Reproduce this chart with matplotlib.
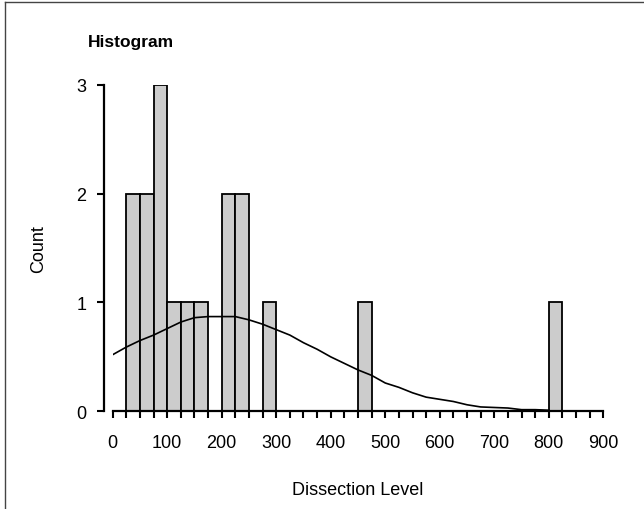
import matplotlib
matplotlib.use("Agg")
from matplotlib import pyplot as plt
from matplotlib.lines import Line2D
import numpy as np

plt.rcParams["font.family"] = ["Liberation Sans", "DejaVu Sans"]

# histogram bins (left edges, width 25) and counts
bin_edges = [25, 50, 75, 100, 125, 150, 200, 225, 275, 450, 800]
bin_counts = [2, 2, 3, 1, 1, 1, 2, 2, 1, 1, 1]
bin_width = 25

# fitted curve
curve_x = [0, 25, 50, 75, 100, 125, 150, 175, 200, 225, 250, 275, 300, 325,
           350, 375, 400, 425, 450, 475, 500, 525, 550, 575, 600, 625, 650,
           675, 700, 725, 750, 775, 800]
curve_y = [0.52, 0.59, 0.65, 0.70, 0.76, 0.82, 0.86, 0.87, 0.87, 0.87, 0.84,
           0.80, 0.75, 0.70, 0.63, 0.57, 0.50, 0.44, 0.38, 0.33, 0.26, 0.22,
           0.17, 0.13, 0.11, 0.09, 0.06, 0.04, 0.035, 0.03, 0.015, 0.015, 0.01]

x_ticks = [0, 100, 200, 300, 400, 500, 600, 700, 800, 900]
y_ticks = [0, 1, 2, 3]

fig = plt.figure(figsize=(6.44, 5.10), dpi=100)
ax = fig.add_axes([112.7 / 644, 1 - 412.3 / 510, (603.3 - 112.7) / 644, (412.3 - 85.7) / 510])

ax.bar(bin_edges, bin_counts, width=bin_width, align="edge",
       color="#cccccc", edgecolor="black", linewidth=1.3, zorder=2)
ax.plot(curve_x, curve_y, color="black", linewidth=1.2, zorder=3)

ax.set_xlim(0, 900)
ax.set_ylim(0, 3)
ax.set_xticks(x_ticks)
ax.set_xticks(np.arange(0, 901, 25), minor=True)
ax.set_yticks(y_ticks)

for s in ["top", "right"]:
    ax.spines[s].set_visible(False)
ax.spines["left"].set_position(("outward", 6))
ax.spines["left"].set_linewidth(1.6)
ax.spines["bottom"].set_linewidth(1.6)
ax.spines["bottom"].set_zorder(4)

ax.tick_params(axis="both", which="major", direction="out", length=5, width=1.5,
               labelsize=13)
ax.tick_params(axis="x", which="major", pad=11)
ax.tick_params(axis="y", which="major", pad=8)
ax.tick_params(axis="x", which="minor", direction="out", length=5, width=1.5)

ax.set_xlabel("Dissection Level", fontsize=13, labelpad=22)
ax.set_ylabel("Count", fontsize=13, labelpad=21)

fig.text(88 / 644, 1 - 43 / 510, "Histogram", fontsize=12.5, fontweight="bold",
         va="center", ha="left")

# thin frame on the left and top edges
fig.lines.append(Line2D([4.5 / 644, 4.5 / 644], [0, 1 - 3 / 510], transform=fig.transFigure,
                        color="#444444", linewidth=1.0))
fig.lines.append(Line2D([4.5 / 644, 1], [1 - 3 / 510, 1 - 3 / 510], transform=fig.transFigure,
                        color="#444444", linewidth=1.0))

plt.savefig("out.png", dpi=100)
